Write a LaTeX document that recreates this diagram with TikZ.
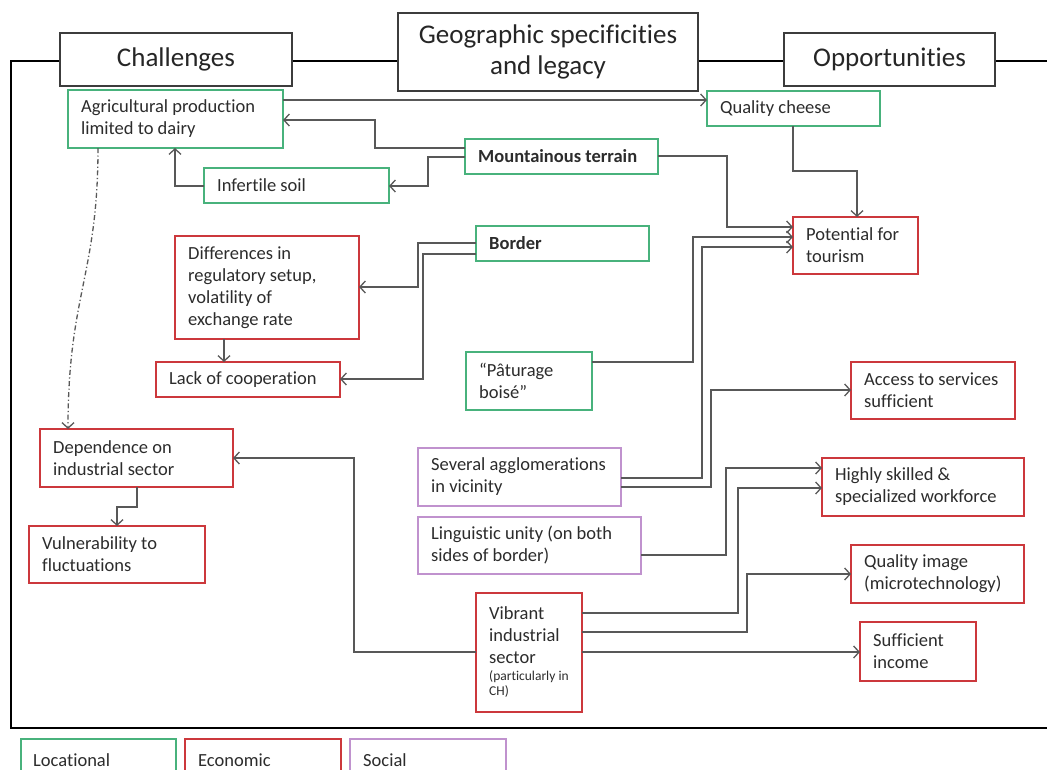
\documentclass[tikz,border=0pt]{standalone}
\usepackage{fontspec}
\setmainfont{Carlito}[Ligatures={NoCommon}]
\usetikzlibrary{arrows.meta}
\definecolor{lgreen}{RGB}{72,178,124}
\definecolor{lred}{RGB}{204,56,60}
\definecolor{lpurple}{RGB}{192,146,206}
\definecolor{lgray}{RGB}{88,88,88}
\definecolor{tcol}{RGB}{44,44,44}
\definecolor{hcol}{RGB}{60,60,60}
\newcommand\mybox[7]{%
  \pgfmathsetmacro\myw{#5-#3}\pgfmathsetmacro\myh{#6-#4}%
  \node[box, draw=#2, minimum width=\myw pt, minimum height=\myh pt] (#1) at (#3,#4) {};
  \node[txt] (#1-t) at ([xshift=13pt]#1.west) {#7};
}
\begin{document}
\begin{tikzpicture}[x=1pt,y=-1pt,
  box/.style={line width=1.5pt, inner sep=0pt, outer sep=0pt, anchor=north west, fill=white},
  txt/.style={anchor=west, align=left, inner sep=0pt, text=tcol, font=\fontsize{18.5}{22}\selectfont},
  hdr/.style={draw=hcol, line width=1.2pt, fill=white, inner sep=0pt, outer sep=0pt, anchor=north west, align=center, text=black!85, font=\fontsize{27}{31}\selectfont},
  arr/.style={draw=lgray, line width=1.3pt, -{Straight Barb[length=5.5pt,width=12pt]}},
  ddot/.style={draw=lgray, line width=1.3pt, dash pattern=on 5pt off 2.5pt on 1.2pt off 2.5pt, -{Straight Barb[length=5.5pt,width=12pt]}},
  frame/.style={draw=black, line width=2.2pt}]
\useasboundingbox (0,0) rectangle (1047,769);
\fill[white] (0,0) rectangle (1047,769);
% frame
\coordinate (ftr) at (1047,61);
\coordinate (ftl) at (11,61);
\coordinate (fbl) at (11,728);
\coordinate (fbr) at (1047,728);
\draw[frame] (ftr) -- (ftl) -- (fbl) -- (fbr);
% headers
\node[hdr, minimum width=232pt, minimum height=53pt] (chal) at (60,33) {Challenges};
\node[hdr, minimum width=300pt, minimum height=78pt] (geo) at (398,13) {Geographic specificities\\and legacy};
\node[hdr, minimum width=211pt, minimum height=53pt] (opp) at (784,33) {Opportunities};
% boxes
\mybox{agri}{lgreen}{68}{90}{283}{148}{Agricultural production\\limited to dairy}
\mybox{soil}{lgreen}{204}{168}{389}{203}{Infertile soil}
\mybox{mount}{lgreen}{465}{139}{658}{174}{\textbf{Mountainous terrain}}
\mybox{qc}{lgreen}{707}{91}{880}{126}{Quality cheese}
\mybox{pot}{lred}{793}{217}{918}{274}{Potential for\\tourism}
\mybox{border}{lgreen}{476}{226}{649}{261}{\textbf{Border}}
\mybox{diff}{lred}{175}{236}{359}{339}{Differences in\\regulatory setup,\\volatility of\\exchange rate}
\mybox{lack}{lred}{156}{362}{340}{397}{Lack of cooperation}
\mybox{pat}{lgreen}{466}{352}{592}{410}{“Pâturage\\boisé”}
\mybox{sev}{lpurple}{418}{448}{621}{506}{Several agglomerations\\in vicinity}
\mybox{ling}{lpurple}{418}{517}{641}{574}{Linguistic unity (on both\\sides of border)}
\mybox{vib}{lred}{476}{593}{582}{712}{Vibrant\\industrial\\sector\\[-5pt]{\fontsize{13.5}{16}\selectfont (particularly in}\\[-7pt]{\fontsize{13.5}{16}\selectfont CH)}}
\mybox{acc}{lred}{851}{362}{1015}{419}{Access to services\\sufficient}
\mybox{hsk}{lred}{822}{458}{1024}{516}{Highly skilled \&\\specialized workforce}
\mybox{qim}{lred}{851}{545}{1024}{603}{Quality image\\(microtechnology)}
\mybox{inc}{lred}{860}{622}{976}{681}{Sufficient\\income}
\mybox{dep}{lred}{40}{429}{233}{487}{Dependence on\\industrial sector}
\mybox{vul}{lred}{29}{526}{205}{583}{Vulnerability to\\fluctuations}
% connectors
\draw[arr] (agri.east |- 0,100) -- (qc.west |- 0,100);
\draw[arr] (mount.west |- 0,148) -- (375,148) -- (375,120) -- (agri.east |- 0,120);
\draw[arr] (mount.west |- 0,157) -- (428,157) -- (428,186) -- (soil.east |- 0,186);
\draw[arr] (soil.west |- 0,186) -- (175,186) -- (agri.south -| 175,0);
\draw[arr] (mount.east |- 0,156) -- (727,156) -- (727,227) -- (pot.west |- 0,227);
\draw[arr] (qc.south -| 793,0) -- (793,171) -- (857,171) -- (pot.north -| 857,0);
\draw[arr] (pat.east |- 0,362) -- (693,362) -- (693,237) -- (pot.west |- 0,237);
\draw[arr] (sev.east |- 0,478) -- (702,478) -- (702,247) -- (pot.west |- 0,247);
\draw[arr] (sev.east |- 0,487) -- (711,487) -- (711,390) -- (acc.west |- 0,390);
\draw[arr] (ling.east |- 0,555) -- (726,555) -- (726,468) -- (hsk.west |- 0,468);
\draw[arr] (vib.east |- 0,613) -- (738,613) -- (738,488) -- (hsk.west |- 0,488);
\draw[arr] (vib.east |- 0,632) -- (747,632) -- (747,574) -- (qim.west |- 0,574);
\draw[arr] (vib.east |- 0,652) -- (inc.west |- 0,652);
\draw[arr] (vib.west |- 0,652) -- (354,652) -- (354,458) -- (dep.east |- 0,458);
\draw[arr] (dep.south -| 137,0) -- (137,507) -- (117,507) -- (vul.north -| 117,0);
\draw[arr] (diff.south -| 224,0) -- (lack.north -| 224,0);
\draw[arr] (border.west |- 0,243) -- (418,243) -- (418,287) -- (diff.east |- 0,287);
\draw[arr] (border.west |- 0,254) -- (423,254) -- (423,379) -- (lack.east |- 0,379);
\draw[ddot] (agri.south -| 98,0) .. controls (98,275) and (68,295) .. (dep.north -| 68,0);
% legend
\begin{scope}
\clip (0,0) rectangle (1047,769);
\draw[lgreen, line width=1.5pt] (21,800) -- (21,739) -- (176,739) -- (176,800);
\draw[lred, line width=1.5pt] (185,800) -- (185,739) -- (341,739) -- (341,800);
\draw[lpurple, line width=1.5pt] (350,800) -- (350,739) -- (506,739) -- (506,800);
\node[txt, anchor=base west] (lg1) at (33,766) {Locational};
\node[txt, anchor=base west] (lg2) at (198,766) {Economic};
\node[txt, anchor=base west] (lg3) at (363,766) {Social};
\end{scope}
\end{tikzpicture}
\end{document}
